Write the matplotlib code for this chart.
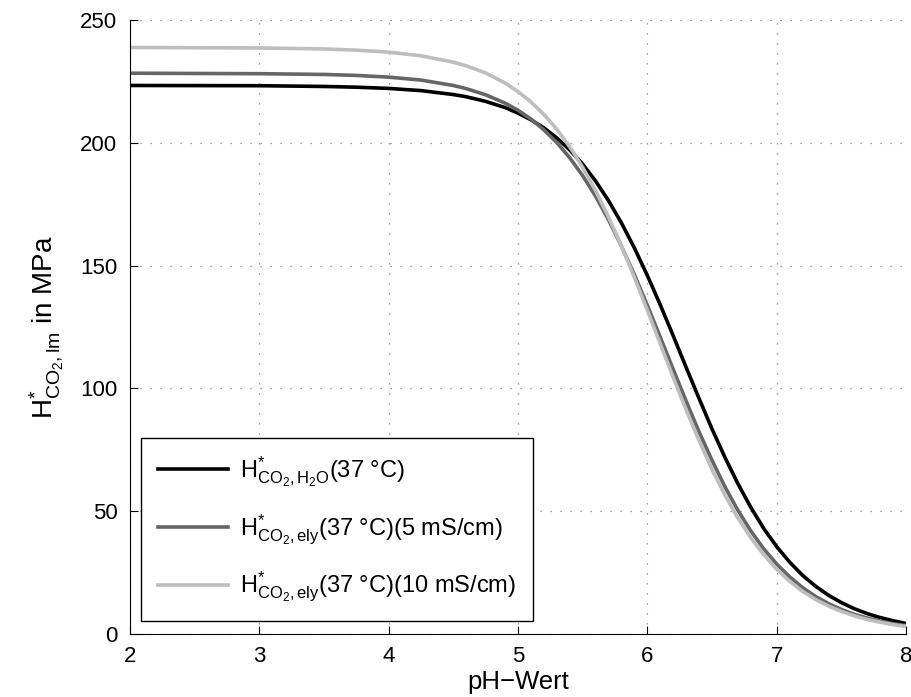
import matplotlib
matplotlib.use("Agg")
import matplotlib.pyplot as plt

plt.rcParams['font.family'] = ['Liberation Sans', 'DejaVu Sans']
plt.rcParams['mathtext.fontset'] = 'custom'
plt.rcParams['mathtext.rm'] = 'Liberation Sans'
plt.rcParams['mathtext.it'] = 'Liberation Sans'
plt.rcParams['mathtext.default'] = 'regular'

# pH values (x) and effective Henry constants in MPa
ph = [2.0, 3.0, 3.5, 3.75, 4.0, 4.25, 4.5, 4.6, 4.75, 4.9, 5.0, 5.1, 5.2, 5.3,
      5.4, 5.5, 5.6, 5.7, 5.8, 5.9, 6.0, 6.1, 6.2, 6.3, 6.4, 6.5, 6.6, 6.7,
      6.8, 6.9, 7.0, 7.1, 7.2, 7.3, 7.4, 7.5, 7.6, 7.7, 7.8, 7.9, 8.0]
h_water = [223.5, 223.4, 223.1, 222.8, 222.3, 221.4, 219.8, 218.9, 217.0, 214.5,
           212.2, 209.5, 206.2, 202.1, 197.2, 191.4, 184.5, 176.5, 167.4, 157.2,
           146.0, 134.0, 121.4, 108.5, 95.8, 83.4, 71.8, 61.1, 51.4, 42.8,
           35.4, 29.1, 23.7, 19.3, 15.6, 12.6, 10.1, 8.1, 6.5, 5.2, 4.1]
h_ely5 = [228.5, 228.3, 228.0, 227.6, 226.9, 225.7, 223.5, 222.2, 219.7, 216.3,
          213.4, 209.8, 205.4, 200.2, 194.0, 186.7, 178.3, 168.7, 157.9, 146.3,
          133.8, 120.8, 107.7, 94.7, 82.2, 70.6, 59.8, 50.2, 41.8, 34.5,
          28.3, 23.1, 18.7, 15.1, 12.2, 9.8, 7.8, 6.3, 5.0, 4.0, 3.2]
h_ely10 = [239.0, 238.8, 238.4, 237.9, 237.1, 235.6, 233.0, 231.5, 228.6, 224.5,
           221.0, 216.8, 211.7, 205.6, 198.5, 190.1, 180.6, 169.8, 158.0, 145.2,
           131.8, 118.1, 104.4, 91.2, 78.6, 66.9, 56.4, 47.1, 39.0, 32.1,
           26.2, 21.3, 17.2, 13.9, 11.2, 9.0, 7.2, 5.7, 4.6, 3.6, 2.9]

labels = [r'$H^{*}_{CO_2,H_2O}$(37 °C)',
          r'$H^{*}_{CO_2,ely}$(37 °C)(5 mS/cm)',
          r'$H^{*}_{CO_2,ely}$(37 °C)(10 mS/cm)']
colors = ['#000000', '#666666', '#bebebe']

fig = plt.figure(figsize=(9.12, 6.97), dpi=100)
ax = fig.add_axes([0.1425, 0.0911, 0.851, 0.8795])

for ys, lab, col in zip([h_water, h_ely5, h_ely10], labels, colors):
    ax.plot(ph, ys, color=col, lw=2.6, label=lab)

ax.set_xlim(2, 8)
ax.set_ylim(0, 250)
ax.set_xticks([2, 3, 4, 5, 6, 7, 8])
ax.set_yticks([0, 50, 100, 150, 200, 250])
ax.grid(True, color='#808080', linestyle=(0, (1, 7)), linewidth=0.9)
ax.spines['top'].set_visible(False)
ax.spines['right'].set_visible(False)
ax.tick_params(direction='in', length=6, labelsize=16)
ax.tick_params(axis='x', pad=9)
ax.tick_params(axis='y', pad=9)

ax.set_xlabel('pH\u2212Wert', fontsize=18.5, labelpad=2)
ax.set_ylabel(r'$H^{*}_{CO_2,lm}$ in MPa', fontsize=20, labelpad=10)

leg = ax.legend(loc='lower left', bbox_to_anchor=(0.0142, 0.0204),
                borderaxespad=0, fancybox=False, framealpha=1,
                edgecolor='black', fontsize=17, handlelength=3.0,
                handletextpad=0.5, labelspacing=1.0, borderpad=0.7)
leg.get_frame().set_linewidth(1.0)

fig.savefig('out.png', dpi=100)
